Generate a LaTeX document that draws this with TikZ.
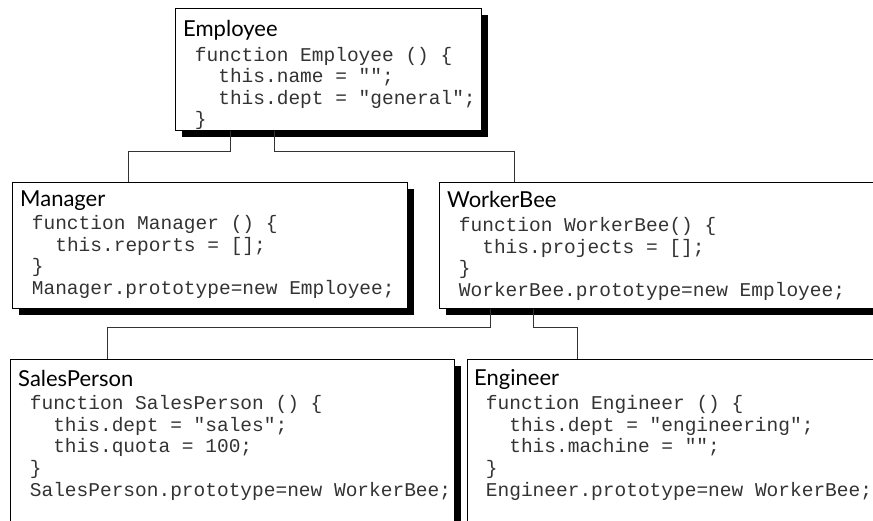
\documentclass[tikz,border=0pt]{standalone}
\usepackage{fontspec}
\setmonofont{Liberation Mono}
\newfontfamily\titlef{Lato}
\usetikzlibrary{shadows}
\newcommand\codefont{\ttfamily\fontsize{19.5}{21.6}\selectfont
  \fontdimen2\font=11.7pt\fontdimen3\font=0pt\fontdimen4\font=0pt}
\newcommand\fixsp{\spaceskip=11.7pt\xspaceskip=11.7pt\relax}
\tikzset{
  classbox/.style={draw=black, line width=1.2pt, fill=white, anchor=north west, inner sep=0pt,
    drop shadow={shadow xshift=6pt, shadow yshift=-6pt, fill=black, opacity=1}},
  classtext/.style={anchor=base west, inner sep=0pt, text width=420pt, align=flush left,
    font=\codefont, text=black!80},
  link/.style={draw=black!80, line width=0.8pt},
}
\newcommand\ttl[1]{{\titlef\fontsize{22}{22}\selectfont\color{black}#1}}
\begin{document}
\begin{tikzpicture}[x=1pt,y=-1pt]
\useasboundingbox (0,0) rectangle (873,520);
\clip (0,0) rectangle (873,520);
\fill[white] (0,0) rectangle (873,520);
% boxes
\node[classbox, minimum width=306pt, minimum height=122pt] (emp) at (175,8) {};
\node[classbox, minimum width=395pt, minimum height=126pt] (mgr) at (12,182) {};
\node[classbox, minimum width=450pt, minimum height=126pt] (wb) at (439,182) {};
\node[classbox, minimum width=444pt, minimum height=170pt] (sp) at (10,359) {};
\node[classbox, minimum width=420pt, minimum height=170pt] (eng) at (467,359) {};
% connectors
\draw[link] ([xshift=55pt]emp.south west) -- ++(0,20) -| ([xshift=116pt]mgr.north west);
\draw[link] ([xshift=99pt]emp.south west) -- ++(0,20) -| ([xshift=75pt]wb.north west);
\draw[link] ([xshift=51pt]wb.south west) -- ++(0,18) -| ([xshift=97pt]sp.north west);
\draw[link] ([xshift=94pt]wb.south west) -- ++(0,18) -| ([xshift=110pt]eng.north west);
% texts
\node[classtext, text width=298pt] (empt) at ([shift={(8pt,-28pt)}]emp.north west) {\fixsp
\ttl{Employee}\\[3.5pt]
\mbox{} function Employee () \{\\
\mbox{}~~~this.name = "";\\
\mbox{}~~~this.dept = "general";\\
\mbox{} \}};
\node[classtext, text width=385pt] (mgrt) at ([shift={(8pt,-24pt)}]mgr.north west) {\fixsp
\ttl{Manager}\\[2pt]
\mbox{} function Manager () \{\\
\mbox{}~~~this.reports = [];\\
\mbox{} \}\\
\mbox{} Manager.prototype=new Employee;};
\node[classtext, text width=420pt] (wbt) at ([shift={(8pt,-25pt)}]wb.north west) {\fixsp
\ttl{WorkerBee}\\[3pt]
\mbox{} function WorkerBee() \{\\
\mbox{}~~~this.projects = [];\\
\mbox{} \}\\
\mbox{} WorkerBee.prototype=new Employee;};
\node[classtext, text width=434pt] (spt) at ([shift={(8pt,-27pt)}]sp.north west) {\fixsp
\ttl{SalesPerson}\\[2pt]
\mbox{} function SalesPerson () \{\\
\mbox{}~~~this.dept = "sales";\\
\mbox{}~~~this.quota = 100;\\
\mbox{} \}\\
\mbox{} SalesPerson.prototype=new WorkerBee;};
\node[classtext, text width=398pt] (engt) at ([shift={(7pt,-26pt)}]eng.north west) {\fixsp
\ttl{Engineer}\\[3pt]
\mbox{} function Engineer () \{\\
\mbox{}~~~this.dept = "engineering";\\
\mbox{}~~~this.machine = "";\\
\mbox{} \}\\
\mbox{} Engineer.prototype=new WorkerBee;};
\end{tikzpicture}
\end{document}
